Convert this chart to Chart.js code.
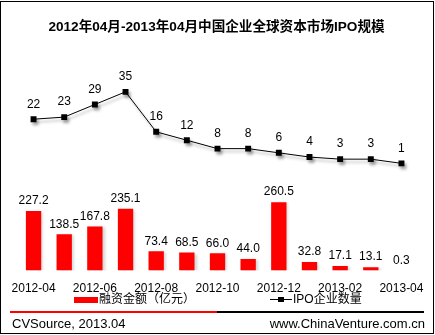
<!DOCTYPE html>
<html>
<head>
<meta charset="utf-8">
<script src="https://cdn.jsdelivr.net/npm/chart.js@4.4.0/dist/chart.umd.min.js"></script>
<style>
  html, body { margin: 0; padding: 0; background: #fff; }
  #wrap { position: relative; width: 435px; height: 335px; overflow: hidden;
          font-family: "Liberation Sans", "Noto Sans CJK SC", Arial, sans-serif; color: #000; }
  #frame { position: absolute; left: 0; top: 1px; width: 432px; height: 331px; border: 1px solid #000; }
  #chartBox { position: absolute; left: 0; top: 0; width: 435px; height: 335px; }
  .txt { position: absolute; font-size: 12px; line-height: 14px; white-space: nowrap; }
  .foot { position: absolute; font-size: 13px; line-height: 15px; white-space: nowrap; }
</style>
</head>
<body>
<div id="wrap">
  <div id="chartBox"><canvas id="ipoChart" width="435" height="335"></canvas></div>
  <div id="frame"></div>

  <!-- legend -->
  <div style="position:absolute;left:74px;top:297px;width:24px;height:6px;background:#ff0000;"></div>
  <div class="txt" style="left:99px;top:292px;">融资金额（亿元）</div>
  <div style="position:absolute;left:270px;top:299px;width:22px;height:1px;background:#000;"></div>
  <div style="position:absolute;left:278px;top:297px;width:6px;height:5px;background:#000;"></div>
  <div class="txt" style="left:293px;top:292px;">IPO企业数量</div>

  <!-- footer -->
  <div style="position:absolute;left:10px;top:311px;width:207px;height:2px;background:#ff0000;"></div>
  <div style="position:absolute;left:217px;top:311px;width:207px;height:2px;background:#000;"></div>
  <div class="foot" style="left:12px;top:316px;">CVSource, 2013.04</div>
  <div class="foot" style="right:10px;top:316px;">www.ChinaVenture.com.cn</div>
</div>

<script>
  // Data
  const months = ['2012-04', '2012-05', '2012-06', '2012-07', '2012-08', '2012-09', '2012-10',
                  '2012-11', '2012-12', '2013-01', '2013-02', '2013-03', '2013-04'];
  const amount = [227.2, 138.5, 167.8, 235.1, 73.4, 68.5, 66.0, 44.0, 260.5, 32.8, 17.1, 13.1, 0.3];
  const ipoCount = [22, 23, 29, 35, 16, 12, 8, 8, 6, 4, 3, 3, 1];

  const FONT = '"Liberation Sans", "Noto Sans CJK SC", Arial, sans-serif';

  // value labels above bars / points
  const valueLabels = {
    id: 'valueLabels',
    afterDatasetsDraw(chart) {
      const ctx = chart.ctx;
      ctx.save();
      ctx.font = '12px ' + FONT;
      ctx.fillStyle = '#000';
      ctx.textAlign = 'center';
      ctx.textBaseline = 'middle';
      chart.data.datasets.forEach((ds, i) => {
        const meta = chart.getDatasetMeta(i);
        const isLine = ds.type === 'line';
        meta.data.forEach((el, j) => {
          const txt = isLine ? String(ds.data[j]) : ds.data[j].toFixed(1);
          ctx.fillText(txt, el.x, el.y - (isLine ? 15 : 10));
        });
      });
      ctx.restore();
    }
  };

  // soft drop shadow like the excel original
  const shadows = {
    id: 'shadows',
    beforeDatasetDraw(chart, args) {
      const ctx = chart.ctx;
      const isLine = chart.data.datasets[args.index].type === 'line';
      ctx.save();
      ctx.shadowColor = isLine ? 'rgba(0,0,0,0.35)' : 'rgba(0,0,0,0.18)';
      ctx.shadowBlur = 3;
      ctx.shadowOffsetX = 2;
      ctx.shadowOffsetY = isLine ? 3 : 1;
    },
    afterDatasetDraw(chart) {
      chart.ctx.restore();
    }
  };

  const ctx = document.getElementById('ipoChart').getContext('2d');
  new Chart(ctx, {
    data: {
      labels: months,
      datasets: [
        { type: 'line', label: 'IPO企业数量', data: ipoCount, yAxisID: 'y1', order: 0,
          borderColor: '#000', borderWidth: 1, tension: 0,
          pointStyle: 'rect', pointRadius: 4.2, pointBackgroundColor: '#000', pointBorderWidth: 0 },
        { type: 'bar', label: '融资金额（亿元）', data: amount, yAxisID: 'y', order: 1,
          backgroundColor: '#ff0000', borderWidth: 0,
          barPercentage: 0.5, categoryPercentage: 1 }
      ]
    },
    options: {
      responsive: false,
      animation: false,
      layout: { padding: { left: 15, right: 17, top: 0, bottom: 28 } },
      plugins: {
        legend: { display: false },
        tooltip: { enabled: false },
        title: {
          display: true,
          text: '2012年04月-2013年04月中国企业全球资本市场IPO规模',
          color: '#000',
          font: { family: FONT, size: 13.6, weight: 'bold' },
          padding: { top: 19, bottom: 25 }
        }
      },
      scales: {
        x: {
          grid: { display: false, drawTicks: false },
          border: { display: false },
          ticks: {
            autoSkip: false, maxRotation: 0, padding: 11, color: '#000',
            font: { family: FONT, size: 12 },
            callback: (v, i) => (i % 2 === 0 ? months[i] : '')
          }
        },
        y: { display: false, min: 0, max: 800 },
        y1: { display: false, min: -50, max: 50 }
      }
    },
    plugins: [shadows, valueLabels]
  });
</script>
</body>
</html>
